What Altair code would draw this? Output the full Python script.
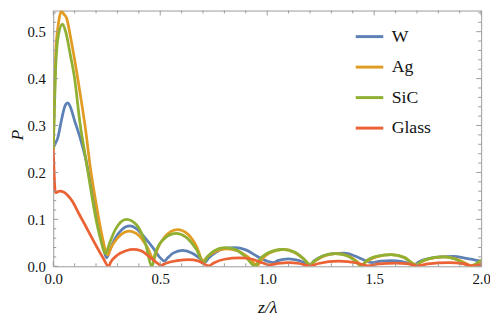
import altair as alt
import pandas as pd

# ---- data ----
materials = ["W", "Ag", "SiC", "Glass"]
colors = ["#5E81B5", "#E19C24", "#8FB032", "#EB6235"]

W_z = [0.00, 0.01, 0.02, 0.04, 0.055, 0.068, 0.078, 0.10, 0.125, 0.15, 0.175, 0.20, 0.225, 0.25,
       0.265, 0.29, 0.32, 0.358, 0.39, 0.43, 0.47, 0.50, 0.52,
       0.535, 0.56, 0.605, 0.65, 0.685, 0.71,
       0.725, 0.76, 0.80, 0.85, 0.90, 0.95, 1.00, 1.03,
       1.05, 1.10, 1.15, 1.20,
       1.22, 1.26, 1.31, 1.36, 1.41, 1.45, 1.49,
       1.53, 1.58, 1.64, 1.69,
       1.71, 1.75, 1.81, 1.87, 1.93, 2.00]
W_p = [0.252, 0.262, 0.272, 0.315, 0.342, 0.348, 0.342, 0.31, 0.275, 0.232, 0.175, 0.115, 0.063, 0.018,
       0.035, 0.06, 0.078, 0.086, 0.08, 0.06, 0.037, 0.018, 0.011,
       0.018, 0.028, 0.034, 0.028, 0.017, 0.009,
       0.017, 0.03, 0.038, 0.04, 0.035, 0.022, 0.011, 0.008,
       0.012, 0.016, 0.012, 0.004,
       0.012, 0.022, 0.027, 0.028, 0.022, 0.014, 0.008,
       0.011, 0.012, 0.009, 0.004,
       0.01, 0.016, 0.02, 0.021, 0.017, 0.011]

Ag_z = [0.00, 0.005, 0.012, 0.025, 0.038, 0.05, 0.063, 0.08, 0.10, 0.125, 0.15, 0.175, 0.20, 0.225, 0.255,
        0.27, 0.30, 0.353, 0.40, 0.44, 0.47,
        0.485, 0.52, 0.58, 0.63, 0.67, 0.70,
        0.72, 0.76, 0.81, 0.86, 0.91, 0.955,
        0.97, 1.01, 1.075, 1.13, 1.17, 1.20,
        1.22, 1.26, 1.32, 1.38, 1.42, 1.44,
        1.46, 1.51, 1.58, 1.64, 1.675, 1.695,
        1.715, 1.76, 1.825, 1.88, 1.93, 1.95, 2.00]
Ag_p = [0.25, 0.34, 0.455, 0.52, 0.543, 0.537, 0.528, 0.49, 0.44, 0.37, 0.295, 0.205, 0.135, 0.072, 0.024,
        0.04, 0.06, 0.075, 0.066, 0.04, 0.015,
        0.035, 0.062, 0.078, 0.068, 0.042, 0.012,
        0.02, 0.032, 0.037, 0.033, 0.02, 0.002,
        0.012, 0.028, 0.036, 0.029, 0.016, 0.004,
        0.01, 0.021, 0.027, 0.022, 0.01, 0.002,
        0.009, 0.02, 0.025, 0.019, 0.008, 0.003,
        0.008, 0.016, 0.02, 0.016, 0.006, 0.001, 0.012]

SiC_z = [0.00, 0.005, 0.012, 0.025, 0.043, 0.058, 0.08, 0.10, 0.125, 0.15, 0.175, 0.20, 0.22, 0.245,
         0.26, 0.29, 0.342, 0.39, 0.43, 0.462,
         0.475, 0.51, 0.573, 0.62, 0.67, 0.703,
         0.72, 0.755, 0.80, 0.85, 0.90, 0.945,
         0.96, 1.00, 1.072, 1.13, 1.17, 1.20,
         1.22, 1.26, 1.318, 1.37, 1.41, 1.44,
         1.46, 1.51, 1.579, 1.64, 1.67, 1.694,
         1.715, 1.76, 1.825, 1.88, 1.92, 1.948, 2.00]
SiC_p = [0.25, 0.33, 0.43, 0.495, 0.516, 0.50, 0.45, 0.40, 0.305, 0.235, 0.165, 0.10, 0.06, 0.027,
         0.045, 0.078, 0.10, 0.088, 0.05, 0.0,
         0.025, 0.055, 0.07, 0.062, 0.035, 0.008,
         0.02, 0.034, 0.04, 0.036, 0.02, 0.0,
         0.012, 0.028, 0.036, 0.03, 0.016, 0.003,
         0.011, 0.022, 0.027, 0.023, 0.012, 0.0,
         0.01, 0.021, 0.025, 0.019, 0.009, 0.002,
         0.009, 0.017, 0.02, 0.015, 0.006, 0.0, 0.013]

Glass_z = [0.00, 0.004, 0.01, 0.03, 0.05, 0.066, 0.09, 0.12, 0.15, 0.18, 0.21, 0.235, 0.258,
           0.27, 0.30, 0.34, 0.373, 0.41, 0.45, 0.48, 0.504,
           0.53, 0.58, 0.634, 0.68, 0.727,
           0.75, 0.80, 0.872, 0.93, 0.98, 1.01,
           1.05, 1.10, 1.15, 1.20,
           1.24, 1.333, 1.42, 1.47,
           1.52, 1.60, 1.66, 1.70,
           1.75, 1.85, 1.92, 1.96, 2.00]
Glass_p = [0.25, 0.20, 0.157, 0.16, 0.158, 0.152, 0.138, 0.112, 0.087, 0.061, 0.036, 0.016, 0.0,
           0.01, 0.024, 0.033, 0.036, 0.033, 0.02, 0.009, 0.002,
           0.007, 0.012, 0.014, 0.011, 0.001,
           0.007, 0.015, 0.018, 0.015, 0.007, 0.003,
           0.006, 0.008, 0.006, 0.001,
           0.006, 0.011, 0.007, 0.001,
           0.005, 0.007, 0.005, 0.001,
           0.005, 0.008, 0.005, 0.001, 0.004]

x_major = [0.0, 0.5, 1.0, 1.5, 2.0]
x_minor = [0.1, 0.2, 0.3, 0.4, 0.6, 0.7, 0.8, 0.9, 1.1, 1.2, 1.3, 1.4, 1.6, 1.7, 1.8, 1.9]
y_major = [0.0, 0.1, 0.2, 0.3, 0.4, 0.5]
y_minor = [0.02, 0.04, 0.06, 0.08, 0.12, 0.14, 0.16, 0.18, 0.22, 0.24, 0.26, 0.28,
           0.32, 0.34, 0.36, 0.38, 0.42, 0.44, 0.46, 0.48, 0.52, 0.54]

series = {"W": (W_z, W_p), "Ag": (Ag_z, Ag_p), "SiC": (SiC_z, SiC_p), "Glass": (Glass_z, Glass_p)}
rows = []
for m in materials:
    zs, ps = series[m]
    for z, p in zip(zs, ps):
        rows.append({"material": m, "z": z, "P": p})
df = pd.DataFrame(rows)

W, H = 435, 260
FRAME = "#9a9a9a"
SERIF = "'Liberation Serif', 'DejaVu Serif', serif"
xs = alt.Scale(domain=[0, 2], nice=False, zero=False)
ys = alt.Scale(domain=[0, 0.545], nice=False, zero=False)
cs = alt.Scale(domain=materials, range=colors)

x_axis = alt.Axis(values=x_major, format=".1f", ticks=False, domain=False, grid=False,
                  labelFlush=False, labelPadding=5, labelFontSize=15, labelColor="#111",
                  labelFont=SERIF,
                  title="z/λ", titleFont=SERIF, titleFontSize=18, titleFontStyle="italic",
                  titleFontWeight="normal",
                  titleX=W / 2, titleY=42, titleAlign="center", titleBaseline="middle",
                  titleColor="#111")
y_axis = alt.Axis(values=y_major, format=".1f", ticks=False, domain=False, grid=False,
                  labelFlush=False, labelPadding=8, labelFontSize=15, labelColor="#111",
                  labelFont=SERIF,
                  title="P", titleFont=SERIF, titleFontSize=18, titleFontStyle="italic",
                  titleFontWeight="normal",
                  titleAngle=-90, titleX=-36, titleY=H / 2 - 4, titleAlign="center",
                  titleBaseline="middle", titleColor="#111")

layers = []
for m in materials:
    ch = alt.Chart(df).transform_filter(alt.datum.material == m).mark_line(
        strokeWidth=2.8, interpolate="monotone", clip=True
    ).encode(
        x=alt.X("z:Q", scale=xs, axis=x_axis),
        y=alt.Y("P:Q", scale=ys, axis=y_axis),
        color=alt.Color("material:N", scale=cs, title=None,
                        legend=alt.Legend(orient="none", legendX=306, legendY=11,
                                          symbolType="stroke", symbolSize=784,
                                          symbolStrokeWidth=3, labelFontSize=18,
                                          labelFont=SERIF,
                                          labelOffset=7, rowPadding=6, padding=0,
                                          labelColor="#111")),
    )
    layers.append(ch)

def xticks(vals, length):
    d = pd.DataFrame({"z": vals})
    bot = alt.Chart(d).mark_rule(color=FRAME, strokeWidth=1).encode(
        x=alt.X("z:Q", scale=xs, axis=x_axis), y=alt.value(H), y2=alt.value(H - length))
    top = alt.Chart(d).mark_rule(color=FRAME, strokeWidth=1).encode(
        x=alt.X("z:Q", scale=xs, axis=x_axis), y=alt.value(0), y2=alt.value(length))
    return [bot, top]

def yticks(vals, length):
    d = pd.DataFrame({"P": vals})
    left = alt.Chart(d).mark_rule(color=FRAME, strokeWidth=1).encode(
        y=alt.Y("P:Q", scale=ys, axis=y_axis), x=alt.value(0), x2=alt.value(length))
    right = alt.Chart(d).mark_rule(color=FRAME, strokeWidth=1).encode(
        y=alt.Y("P:Q", scale=ys, axis=y_axis), x=alt.value(W), x2=alt.value(W - length))
    return [left, right]

tick_layers = xticks(x_major, 5) + xticks(x_minor, 3) + yticks(y_major, 5) + yticks(y_minor, 3)

chart = alt.layer(*layers, *tick_layers).properties(
    width=W, height=H,
    autosize=alt.AutoSizeParams(type="none"),
    padding={"left": 46, "top": 0, "right": 9, "bottom": 52},
).configure(
    font=SERIF
).configure_view(
    stroke=FRAME, strokeWidth=1
)

chart.save("out.html", embed_options={"renderer": "svg", "actions": False})
